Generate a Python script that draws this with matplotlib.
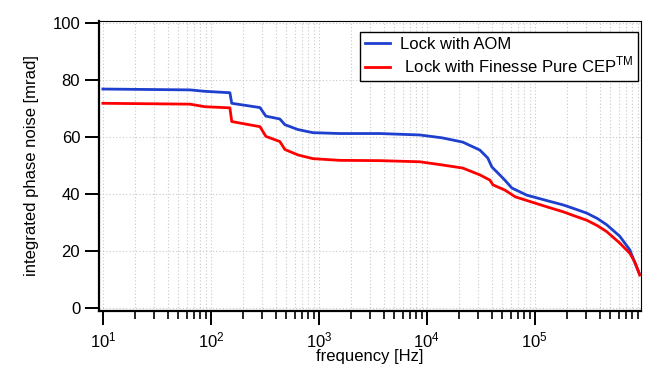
import numpy as np
import matplotlib.pyplot as plt
from matplotlib.ticker import LogLocator, NullFormatter

# frequency [Hz] and integrated phase noise [mrad]
freq_aom = [10, 64, 88, 150, 156, 285, 323, 435, 485, 640, 880, 1560, 3670,
            8600, 13800, 21500, 31000, 36700, 40000, 45400, 52700, 61300,
            84300, 132000, 182000, 234000, 303000, 380000, 464000, 612000,
            759000, 843000, 937000]
noise_aom = [76.8, 76.5, 76.0, 75.5, 71.8, 70.3, 67.3, 66.3, 64.3, 62.6, 61.5,
             61.2, 61.2, 60.7, 59.7, 58.2, 55.4, 52.6, 49.5, 47.4, 44.9, 42.1,
             39.6, 37.6, 36.2, 34.8, 33.3, 31.4, 29.2, 25.2, 20.4, 16.0, 11.8]

freq_pure = [10, 64, 88, 150, 156, 285, 323, 435, 485, 640, 880, 1560, 3670,
             8600, 13800, 21500, 31000, 38300, 41000, 52700, 66000, 132000,
             182000, 234000, 303000, 380000, 464000, 612000, 759000, 843000,
             937000]
noise_pure = [71.8, 71.5, 70.6, 70.2, 65.4, 63.6, 60.2, 58.4, 55.6, 53.7, 52.4,
              51.8, 51.7, 51.3, 50.2, 49.1, 46.7, 44.9, 43.2, 41.4, 39.0, 35.4,
              33.8, 32.3, 30.8, 28.9, 26.8, 22.8, 19.2, 16.2, 11.6]

labels = ["Lock with AOM", r" Lock with Finesse Pure CEP$^{\mathrm{TM}}$"]


def main() -> None:
    plt.rcParams["font.family"] = ["Liberation Sans", "DejaVu Sans"]
    plt.rcParams["mathtext.fontset"] = "custom"
    plt.rcParams["mathtext.rm"] = "Liberation Sans"

    fig = plt.figure(figsize=(6.6, 3.66), dpi=100)
    ax = fig.add_axes([0.15, 0.150, 0.821, 0.793])

    ax.plot(freq_aom, noise_aom, color="#1f3fcf", linewidth=2.0, label=labels[0])
    ax.plot(freq_pure, noise_pure, color="#ff0000", linewidth=2.0, label=labels[1])

    ax.set_xscale("log")
    ax.set_xlim(9.2, 9.6e5)
    ax.set_ylim(-1.05, 100.7)
    ax.set_yticks([0, 20, 40, 60, 80, 100])
    ax.xaxis.set_major_locator(LogLocator(base=10, numticks=10))
    ax.xaxis.set_minor_locator(LogLocator(base=10, subs=np.arange(2, 10), numticks=20))
    ax.xaxis.set_minor_formatter(NullFormatter())

    ax.grid(True, which="major", color="#c8c8c8", linestyle=(0, (1, 2)), linewidth=0.8)
    ax.grid(True, which="minor", axis="x", color="#c8c8c8", linestyle=(0, (1, 2)), linewidth=0.8)

    ax.spines["left"].set_linewidth(1.6)
    ax.spines["bottom"].set_linewidth(1.6)
    ax.spines["top"].set_linewidth(0.8)
    ax.spines["right"].set_linewidth(0.8)
    ax.tick_params(axis="both", which="major", labelsize=12, width=1.4, length=10,
                   direction="out")
    ax.tick_params(axis="x", which="minor", width=1.2, length=6, direction="out")
    ax.tick_params(axis="x", which="major", pad=4)

    ax.set_ylabel("integrated phase noise [mrad]", fontsize=12, labelpad=10)
    ax.set_xlabel("frequency [Hz]", fontsize=12, labelpad=-1)

    leg = ax.legend(loc="upper right", fontsize=12, fancybox=False, framealpha=1,
                    edgecolor="black", borderaxespad=0, borderpad=0.3,
                    labelspacing=0.2, handlelength=1.5, handletextpad=0.55,
                    bbox_to_anchor=(0.9945, 0.962))
    leg.get_frame().set_linewidth(1.0)

    fig.savefig("out.png", dpi=100)


if __name__ == "__main__":
    main()
